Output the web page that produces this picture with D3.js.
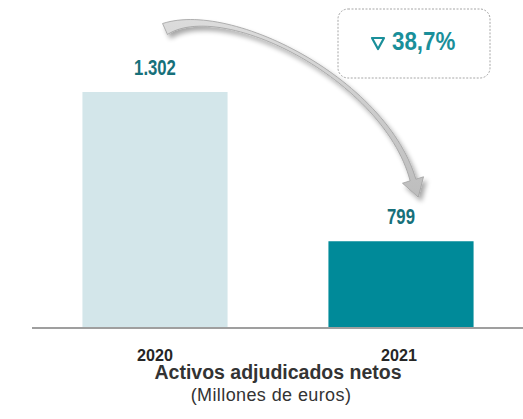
<!DOCTYPE html>
<html>
<head>
<meta charset="utf-8">
<script src="https://cdn.jsdelivr.net/npm/d3@7"></script>
<style>
  body { margin: 0; background: #fff; }
  svg { display: block; }
  text { font-family: "Liberation Sans", Arial, sans-serif; }
</style>
</head>
<body>
<svg width="523" height="419"></svg>
<script>
// data
const years = ["2020", "2021"];
const values = [1302, 799];
const valueLabels = ["1.302", "799"];
const changeLabel = "38,7%";
const title = "Activos adjudicados netos";
const subtitle = "(Millones de euros)";

const barColors = ["#d3e6ea", "#008a99"];

const svg = d3.select("svg");

const x = d3.scaleBand()
  .domain(years)
  .range([32, 524])
  .paddingInner(0.41)
  .paddingOuter(0.205);

// axis doesn't start at zero in the original
const y = d3.scaleLinear()
  .domain([510, 1302])
  .range([327, 92]);

// narrow font isn't installed, squeeze the normal one
function narrowText(sel, px, py, sx) {
  return sel.append("text")
    .attr("transform", `translate(${px},${py}) scale(${sx},1)`);
}

// shadow filter for the arrow
const defs = svg.append("defs");
const f = defs.append("filter").attr("id", "shadow")
  .attr("x", "-20%").attr("y", "-20%").attr("width", "140%").attr("height", "140%");
f.append("feGaussianBlur").attr("in", "SourceAlpha").attr("stdDeviation", 2.5).attr("result", "b");
f.append("feOffset").attr("in", "b").attr("dx", 3).attr("dy", 4).attr("result", "o");
f.append("feComponentTransfer").attr("in", "o").attr("result", "s")
  .append("feFuncA").attr("type", "linear").attr("slope", 0.35);
const m = f.append("feMerge");
m.append("feMergeNode").attr("in", "s");
m.append("feMergeNode").attr("in", "SourceGraphic");

const grad = defs.append("linearGradient").attr("id", "arrowGrad")
  .attr("x1", 0).attr("y1", 0).attr("x2", 0).attr("y2", 1);
grad.append("stop").attr("offset", "0%").attr("stop-color", "#dcdcdc");
grad.append("stop").attr("offset", "100%").attr("stop-color", "#bdbdbd");

// bars
svg.selectAll(".bar")
  .data(years)
  .join("rect")
  .attr("class", "bar")
  .attr("x", d => x(d))
  .attr("y", (d, i) => y(values[i]))
  .attr("width", x.bandwidth())
  .attr("height", (d, i) => y.range()[0] - y(values[i]))
  .attr("fill", (d, i) => barColors[i]);

// value labels
years.forEach((d, i) => {
  narrowText(svg, x(d) + x.bandwidth() / 2, y(values[i]) - 17, 0.76)
    .attr("text-anchor", "middle")
    .attr("font-size", 22)
    .attr("font-weight", "bold")
    .attr("fill", "#17707a")
    .text(valueLabels[i]);
});

// baseline
svg.append("line")
  .attr("x1", 32).attr("x2", 523)
  .attr("y1", 328).attr("y2", 328)
  .attr("stroke", "#7f7f7f")
  .attr("stroke-width", 1.5);

// year labels
years.forEach((d, i) => {
  narrowText(svg, x(d) + x.bandwidth() / 2 + (i ? -2 : 0), 361, 0.95)
    .attr("text-anchor", "middle")
    .attr("font-size", 17)
    .attr("font-weight", "bold")
    .attr("fill", "#262626")
    .text(d);
});

svg.append("text")
  .attr("x", 278).attr("y", 379)
  .attr("text-anchor", "middle")
  .attr("font-size", 19.5)
  .attr("font-weight", "bold")
  .attr("fill", "#333")
  .text(title);

svg.append("text")
  .attr("x", 271).attr("y", 401)
  .attr("text-anchor", "middle")
  .attr("font-size", 18)
  .attr("letter-spacing", 0.4)
  .attr("fill", "#333")
  .text(subtitle);

// change box
svg.append("rect")
  .attr("x", 338).attr("y", 9)
  .attr("width", 152).attr("height", 69)
  .attr("rx", 10)
  .attr("fill", "#fff")
  .attr("stroke", "#a6a6a6")
  .attr("stroke-width", 1)
  .attr("stroke-dasharray", "2,1.5");

// down triangle
svg.append("path")
  .attr("d", "M372,38 L384,38 L378,49 Z")
  .attr("fill", "none")
  .attr("stroke", "#1a8f9a")
  .attr("stroke-width", 2.2)
  .attr("stroke-linejoin", "round");

narrowText(svg, 392, 50, 0.86)
  .attr("font-size", 26)
  .attr("font-weight", "bold")
  .attr("fill", "#1a8f9a")
  .text(changeLabel);

// curved arrow from 2020 label to 2021 bar
const p0 = [165, 29], p1 = [228, 0], p2 = [385, 80], p3 = [413, 180];
const bez = t => {
  const u = 1 - t;
  return [
    u*u*u*p0[0] + 3*u*u*t*p1[0] + 3*u*t*t*p2[0] + t*t*t*p3[0],
    u*u*u*p0[1] + 3*u*u*t*p1[1] + 3*u*t*t*p2[1] + t*t*t*p3[1]
  ];
};
const width = t => 3 + 9 * Math.pow(1 - t, 6) + 3 * t * t * t;
const left = [], right = [];
const n = 60;
for (let i = 0; i <= n; i++) {
  const t = i / n;
  const a = bez(Math.max(0, t - 0.005)), b = bez(Math.min(1, t + 0.005));
  let dx = b[0] - a[0], dy = b[1] - a[1];
  const len = Math.hypot(dx, dy);
  dx /= len; dy /= len;
  const c = bez(t), w = width(t) / 2;
  left.push([c[0] - dy * w, c[1] + dx * w]);
  right.push([c[0] + dy * w, c[1] - dx * w]);
}
// arrow head
const end = bez(1), pre = bez(0.98);
let tx = end[0] - pre[0], ty = end[1] - pre[1];
const tl = Math.hypot(tx, ty); tx /= tl; ty /= tl;
const hw = 11, hl = 18;
const headL = [end[0] - ty * hw, end[1] + tx * hw];
const headR = [end[0] + ty * hw, end[1] - tx * hw];
const tip = [end[0] + tx * hl, end[1] + ty * hl];

const pts = [...left, headL, tip, headR, ...right.reverse()];
svg.append("path")
  .attr("d", d3.line()(pts) + "Z")
  .attr("fill", "url(#arrowGrad)")
  .attr("stroke", "#a0a0a0")
  .attr("stroke-width", 0.8)
  .attr("filter", "url(#shadow)");
</script>
</body>
</html>
